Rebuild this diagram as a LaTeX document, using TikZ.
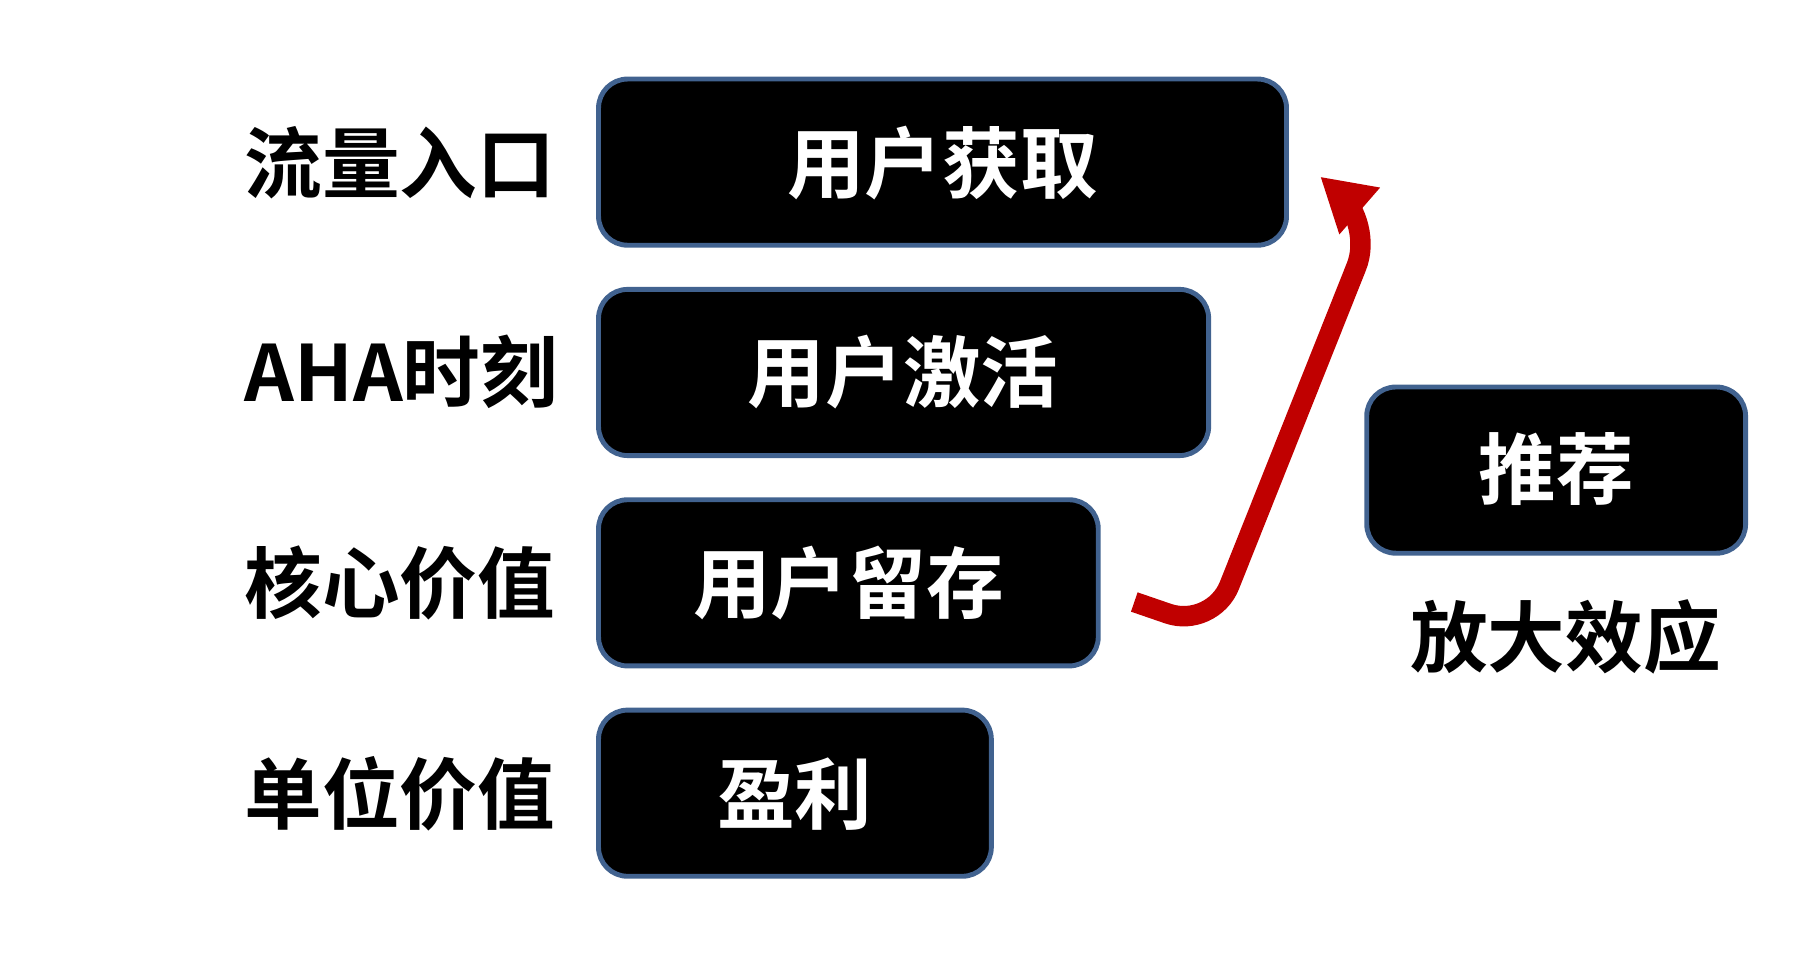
\documentclass[tikz,border=0pt]{standalone}
\usepackage{fontspec}
\setmainfont{Noto Sans CJK SC}[BoldFont={* Bold}]
\usetikzlibrary{arrows.meta}
\definecolor{edgeblue}{HTML}{41628F}
\definecolor{arrowred}{HTML}{C00000}

\begin{document}
\begin{tikzpicture}[x=0.01cm,y=-0.01cm,
    stagebox/.style={draw=edgeblue,line width=1.2pt,fill=black,rounded corners=0.25cm},
    boxtext/.style={text=white,font=\bfseries\fontsize{19}{19}\selectfont},
    lefttext/.style={anchor=west,font=\bfseries\fontsize{19}{19}\selectfont}]
    \useasboundingbox (0,0) rectangle (1560,830);
    % boxes
    \draw [stagebox] (515,68) rectangle (1107,211);
    \node [boxtext] (get) at (811,140) {用户获取};
    \draw [stagebox] (515,249) rectangle (1040,392);
    \node [boxtext] (act) at (777,320) {用户激活};
    \draw [stagebox] (515,430) rectangle (945,573);
    \node [boxtext] (keep) at (730,502) {用户留存};
    \draw [stagebox] (515,611) rectangle (853,754);
    \node [boxtext] (profit) at (684,683) {盈利};
    \draw [stagebox] (1176,333) rectangle (1502,476);
    \node [boxtext] (share) at (1339,404) {推荐};
    % labels
    \node [lefttext] (l1) at (198,140) {流量入口};
    \node [lefttext] (l2) at (198,320) {AHA时刻};
    \node [lefttext] (l3) at (198,502) {核心价值};
    \node [lefttext] (l4) at (198,683) {单位价值};
    \node [font=\bfseries\fontsize{19}{19}\selectfont] (amp) at (1347,548) {放大效应};
    % arrow
    \coordinate (s) at (976,518);
    \draw [arrowred,line width=5pt,rounded corners=0.4cm,-{Triangle[length=0.45cm,width=0.5cm]}]
        (s) -- (1043,541) -- (1182,192) -- (1136,152);
\end{tikzpicture}
\end{document}
